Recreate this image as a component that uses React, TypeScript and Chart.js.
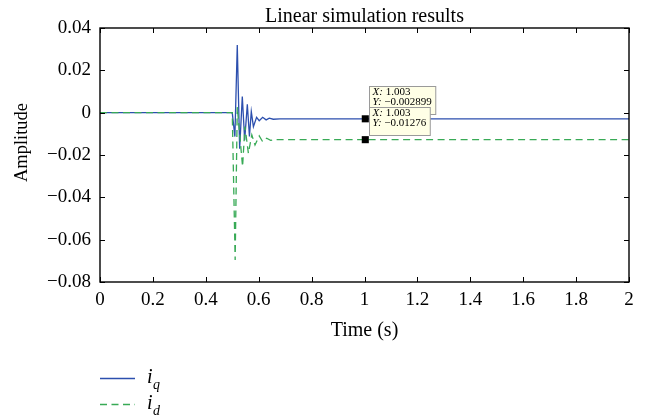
import React, { useEffect, useRef } from "react";
import { Chart, registerables } from "chart.js";

Chart.register(...registerables);

// ---- data ----
const iqTime = [0, 0.5, 0.51, 0.519, 0.528, 0.538, 0.547, 0.557, 0.565, 0.572, 0.58, 0.592, 0.602, 0.615, 0.628, 0.64, 0.655, 0.68, 2];
const iqValue = [0, 0, -0.0113, 0.032, -0.017, 0.0076, -0.013, 0.004, -0.0112, 0.0005, -0.0066, -0.0022, -0.0038, -0.0022, -0.0034, -0.0026, -0.0031, -0.0029, -0.002899];

const idTime = [0, 0.5, 0.511, 0.519, 0.539, 0.548, 0.561, 0.574, 0.586, 0.602, 0.615, 0.63, 0.645, 0.66, 2];
const idValue = [0, 0, -0.0696, 0.0026, -0.0255, -0.0066, -0.0192, -0.0105, -0.0153, -0.011, -0.0137, -0.0121, -0.0131, -0.0127, -0.01276];

const tipTime = [1.003, 1.003];
const tipValue = [-0.002899, -0.01276];
const tipXText = ["1.003", "1.003"];
const tipYText = ["\u22120.002899", "\u22120.01276"];

const xTicksStep = 0.2;
const yTicksStep = 0.02;

const titleText = "Linear simulation results";
const xLabelText = "Time (s)";
const yLabelText = "Amplitude";
const legendMain = ["i", "i"];
const legendSub = ["q", "d"];

const BLUE = "#2C4FAE";
const GREEN = "#38AA56";
const SERIF = '"Liberation Serif", "Times New Roman", serif';

const fmt = (v: number) => {
  const r = Math.round(v * 1000) / 1000;
  if (Math.abs(r) < 1e-9) return "0";
  return (r < 0 ? "\u2212" : "") + String(Math.abs(r));
};

const decor = {
  id: "decor",
  afterDatasetsDraw(chart: any) {
    const { ctx, chartArea: a, scales } = chart;
    const xs = scales.x;
    const ys = scales.y;
    ctx.save();
    // frame
    ctx.strokeStyle = "#000";
    ctx.lineWidth = 1.4;
    ctx.strokeRect(a.left, a.top, a.right - a.left, a.bottom - a.top);
    // inward ticks
    ctx.lineWidth = 1;
    ctx.beginPath();
    xs.ticks.forEach((t: any) => {
      const p = Math.round(xs.getPixelForValue(t.value)) + 0.5;
      ctx.moveTo(p, a.bottom);
      ctx.lineTo(p, a.bottom - 5);
      ctx.moveTo(p, a.top);
      ctx.lineTo(p, a.top + 5);
    });
    ys.ticks.forEach((t: any) => {
      const p = Math.round(ys.getPixelForValue(t.value)) + 0.5;
      ctx.moveTo(a.left, p);
      ctx.lineTo(a.left + 5, p);
      ctx.moveTo(a.right, p);
      ctx.lineTo(a.right - 5, p);
    });
    ctx.stroke();

    // data tips
    for (let i = 0; i < tipTime.length; i++) {
      const px = xs.getPixelForValue(tipTime[i]);
      const py = ys.getPixelForValue(tipValue[i]);
      const left = Math.round(px + 4) + 0.5;
      const top = Math.round(py - 33) + 0.5;
      ctx.font = `italic 11px ${SERIF}`;
      const wLab = ctx.measureText("Y: ").width;
      ctx.font = `11px ${SERIF}`;
      const w = Math.max(ctx.measureText(tipXText[i]).width, ctx.measureText(tipYText[i]).width) + wLab + 7;
      ctx.fillStyle = "#FFFFE6";
      ctx.strokeStyle = "#9A9A9A";
      ctx.lineWidth = 1;
      ctx.fillRect(left, top, w, 28);
      ctx.strokeRect(left, top, w, 28);
      ctx.fillStyle = "#000";
      ctx.textBaseline = "middle";
      ctx.textAlign = "left";
      ctx.font = `italic 11px ${SERIF}`;
      ctx.fillText("X:", left + 3, top + 6);
      ctx.fillText("Y:", left + 3, top + 16);
      const wx = ctx.measureText("X: ").width;
      ctx.font = `11px ${SERIF}`;
      ctx.fillText(tipXText[i], left + 3 + wx, top + 6);
      ctx.fillText(tipYText[i], left + 3 + wLab, top + 16);
    }

    // title and axis labels
    ctx.fillStyle = "#000";
    ctx.textAlign = "center";
    ctx.textBaseline = "alphabetic";
    const cx = (a.left + a.right) / 2;
    ctx.font = `20px ${SERIF}`;
    ctx.fillText(titleText, cx, 21.5);
    ctx.font = `20px ${SERIF}`;
    ctx.fillText(xLabelText, cx, 335.5);
    ctx.save();
    ctx.translate(27, 142.5);
    ctx.rotate(-Math.PI / 2);
    ctx.font = `18.5px ${SERIF}`;
    ctx.fillText(yLabelText, 0, 0);
    ctx.restore();

    // legend
    const rows = [
      { y: 378, color: BLUE, dash: [] as number[] },
      { y: 404, color: GREEN, dash: [7, 4.5] },
    ];
    rows.forEach((r, i) => {
      ctx.beginPath();
      ctx.setLineDash(r.dash);
      ctx.strokeStyle = r.color;
      ctx.lineWidth = 1.4;
      ctx.moveTo(100, r.y + 0.5);
      ctx.lineTo(135, r.y + 0.5);
      ctx.stroke();
      ctx.setLineDash([]);
      ctx.textAlign = "left";
      ctx.fillStyle = "#000";
      ctx.font = `italic 20px ${SERIF}`;
      ctx.fillText(legendMain[i], 147, r.y + 5);
      const wi = ctx.measureText(legendMain[i]).width;
      ctx.font = `italic 14px ${SERIF}`;
      ctx.fillText(legendSub[i], 147 + wi + 0.5, r.y + 11);
    });
    ctx.restore();
  },
};

export default function App() {
  const ref = useRef<HTMLCanvasElement | null>(null);
  useEffect(() => {
    document.body.style.margin = "0";
    const canvas = ref.current;
    if (!canvas) return;
    const chart = new Chart(canvas, {
      type: "line",
      data: {
        datasets: [
          {
            label: "iq",
            data: iqTime.map((t, i) => ({ x: t, y: iqValue[i] })),
            borderColor: BLUE,
            borderWidth: 1.3,
            pointRadius: 0,
            tension: 0,
            fill: false,
            order: 2,
          },
          {
            label: "id",
            data: idTime.map((t, i) => ({ x: t, y: idValue[i] })),
            borderColor: GREEN,
            borderWidth: 1.3,
            borderDash: [7, 4.5],
            pointRadius: 0,
            tension: 0,
            fill: false,
            order: 1,
          },
          {
            label: "tips",
            data: tipTime.map((t, i) => ({ x: t, y: tipValue[i] })),
            showLine: false,
            pointStyle: "rect",
            pointRadius: 5,
            pointBackgroundColor: "#000",
            pointBorderColor: "#000",
            pointBorderWidth: 0,
            order: 0,
          },
        ],
      },
      options: {
        animation: false,
        responsive: false,
        devicePixelRatio: 1,
        parsing: true,
        layout: { padding: { top: 28, right: 18, left: 0, bottom: 0 } },
        plugins: { legend: { display: false }, tooltip: { enabled: false }, title: { display: false } },
        events: [],
        scales: {
          x: {
            type: "linear",
            min: 0,
            max: 2,
            grid: { display: false, drawTicks: false },
            border: { display: false },
            ticks: {
              stepSize: xTicksStep,
              padding: 7,
              maxRotation: 0,
              autoSkip: false,
              color: "#000",
              font: { family: SERIF, size: 19 },
              callback: (v: any) => fmt(Number(v)),
            },
            afterFit: (s: any) => {
              s.height = 136;
            },
          },
          y: {
            type: "linear",
            min: -0.08,
            max: 0.04,
            grid: { display: false, drawTicks: false },
            border: { display: false },
            ticks: {
              stepSize: yTicksStep,
              padding: 9,
              autoSkip: false,
              color: "#000",
              font: { family: SERIF, size: 19 },
              callback: (v: any) => fmt(Number(v)),
            },
            afterFit: (s: any) => {
              s.width = 100;
            },
          },
        },
      },
      plugins: [decor],
    } as any);
    return () => chart.destroy();
  }, []);
  return (
    <div style={{ position: "relative", width: 647, height: 418 }}>
      <canvas ref={ref} width={647} height={418} style={{ display: "block", width: 647, height: 418 }} />
    </div>
  );
}
